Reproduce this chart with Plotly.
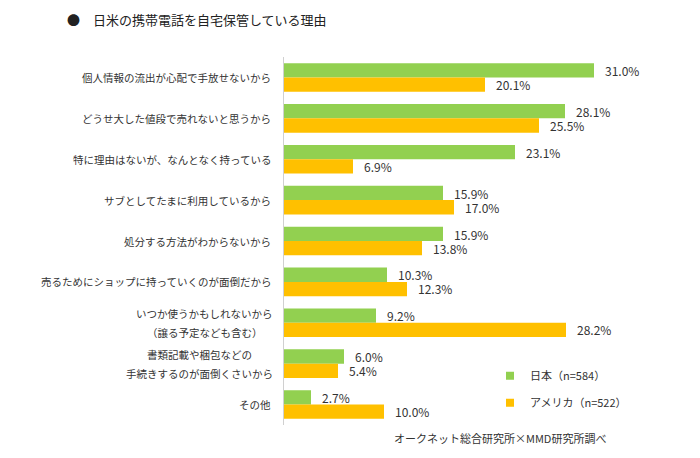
import plotly.graph_objects as go

categories = [
    "個人情報の流出が心配で手放せないから",
    "どうせ大した値段で売れないと思うから",
    "特に理由はないが、なんとなく持っている",
    "サブとしてたまに利用しているから",
    "処分する方法がわからないから",
    "売るためにショップに持っていくのが面倒だから",
    "いつか使うかもしれないから<br>（譲る予定なども含む）",
    "書類記載や梱包などの<br>手続きするのが面倒くさいから",
    "その他",
]
japan = [31.0, 28.1, 23.1, 15.9, 15.9, 10.3, 9.2, 6.0, 2.7]
usa = [20.1, 25.5, 6.9, 17.0, 13.8, 12.3, 28.2, 5.4, 10.0]
series_names = ["日本（n=584）", "アメリカ（n=522）"]
series_colors = ["#92D050", "#FFC000"]
title_text = "●　日米の携帯電話を自宅保管している理由"
source_text = "オークネット総合研究所×MMD研究所調べ"

FONT = "Noto Sans CJK JP, Noto Sans, sans-serif"
TXT = "#333333"
CAT_FS = 10.5

# page has an 8px body margin; figure is sized to fill the rest of the window
W, H = 692, 450

fig = go.Figure()
for name, vals, col in zip(series_names, [japan, usa], series_colors):
    fig.add_trace(go.Bar(
        y=categories, x=vals, orientation="h", name=name,
        marker=dict(color=col, line=dict(width=0)),
        showlegend=False, hoverinfo="x+name",
    ))
# legend entries with small square swatches
for name, col, grp in zip(series_names, series_colors, ["a", "b"]):
    fig.add_trace(go.Scatter(
        x=[None], y=[None], mode="markers", name=name, legendgroup=grp,
        marker=dict(symbol="square", size=8, color=col),
    ))

annotations = []
for vals, shift in [(japan, 7), (usa, -7)]:
    for c, v in zip(categories, vals):
        annotations.append(dict(
            x=v, y=c, xref="x", yref="y", text=f"{v:.1f}%", showarrow=False,
            xanchor="left", yanchor="middle", xshift=9, yshift=shift,
            font=dict(family=FONT, size=12, color=TXT),
        ))
for c in categories:
    lines = c.split("<br>")
    if len(lines) == 1:
        annotations.append(dict(
            x=0, y=c, xref="paper", yref="y", text=c, showarrow=False,
            xanchor="right", yanchor="middle", xshift=-11,
            font=dict(family=FONT, size=CAT_FS, color=TXT),
        ))
    else:
        maxw = max(len(l) for l in lines) * CAT_FS
        n = len(lines)
        for i, l in enumerate(lines):
            annotations.append(dict(
                x=0, y=c, xref="paper", yref="y", text=l, showarrow=False,
                xanchor="center", yanchor="middle", xshift=-11 - maxw / 2,
                yshift=9.5 * (n - 1) - 19 * i,
                font=dict(family=FONT, size=CAT_FS, color=TXT),
            ))
annotations.append(dict(
    x=0.81, y=-0.035, xref="paper", yref="paper", text=source_text, showarrow=False,
    xanchor="right", yanchor="middle",
    font=dict(family=FONT, size=11, color=TXT),
))

fig.update_layout(
    width=W, height=H,
    margin=dict(l=276, r=16, t=49, b=32.5),
    paper_bgcolor="white", plot_bgcolor="white",
    barmode="group", bargap=0.30, bargroupgap=0,
    title=dict(text=title_text, x=59 / W, xanchor="left", xref="container",
               y=1 - 12 / H, yanchor="middle", yref="container",
               font=dict(family=FONT, size=13, color="#222222")),
    xaxis=dict(range=[0, 40], showgrid=False, zeroline=False, showticklabels=False,
               showline=False, fixedrange=True),
    yaxis=dict(autorange="reversed", showticklabels=False, showgrid=False,
               showline=True, linecolor="#d0d0d0", linewidth=1, ticks="",
               fixedrange=True),
    legend=dict(x=0.515, y=0.097, xanchor="left", yanchor="middle",
                font=dict(family=FONT, size=11, color=TXT),
                tracegroupgap=8, itemwidth=30, bgcolor="rgba(0,0,0,0)"),
    annotations=annotations,
    showlegend=True,
)

fig.write_html("out.html")
